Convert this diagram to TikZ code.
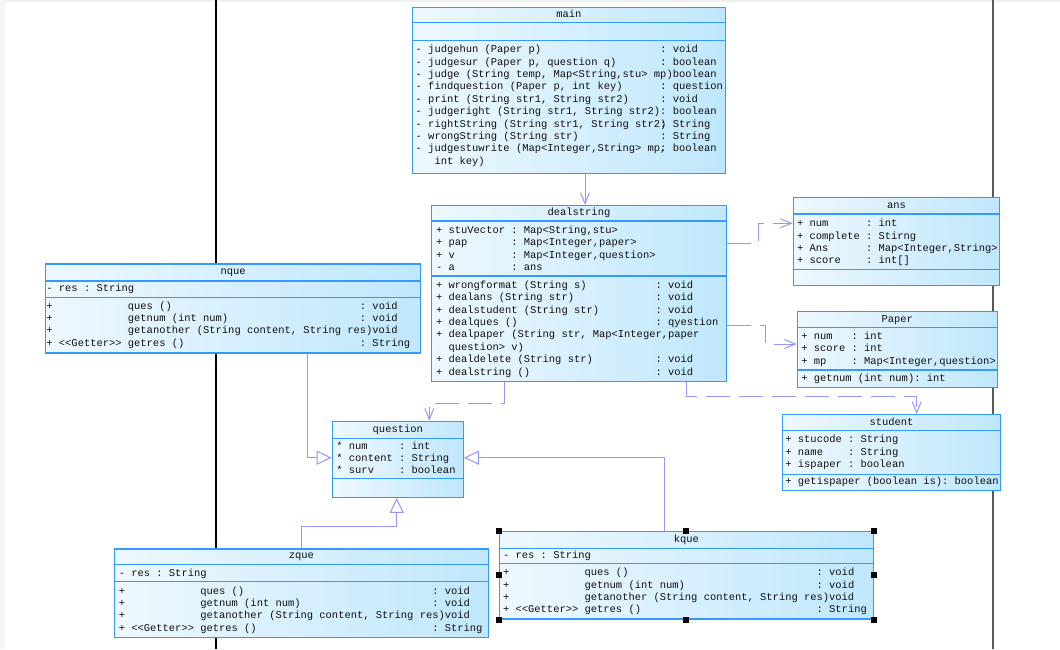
\documentclass[tikz,border=0pt]{standalone}
\usepackage{fontspec}
\setmonofont{Liberation Mono}
\usetikzlibrary{arrows.meta}

\definecolor{clsline}{RGB}{51,153,255}
\definecolor{clsleft}{RGB}{238,248,254}
\definecolor{clsright}{RGB}{192,231,252}
\definecolor{lnk}{RGB}{150,150,255}
\definecolor{txt}{RGB}{15,15,15}

\newlength\chw
\newcommand\memfont{\fontsize{10.45}{12.4}\selectfont\ttfamily\frenchspacing}
\AtBeginDocument{\settowidth\chw{\memfont x}}
\newcommand\mem[4]{\strut\makebox[2\chw][l]{#1}\makebox[#2\chw][l]{#3}: #4}
\newcommand\memx[4]{\strut\makebox[2\chw][l]{#1}\makebox[#2\chw][l]{#3}\hspace*{2\chw}#4}

\begin{document}
\begin{tikzpicture}[x=1pt, y=-1pt]

\tikzstyle{cls} = [draw=clsline, line width=1.2pt, left color=clsleft, right color=clsright, anchor=north west, inner sep=0pt];
\tikzstyle{sep} = [draw=clsline, line width=1.2pt];
\tikzstyle{title} = [font=\memfont, text=txt, anchor=base];
\tikzstyle{mem} = [font=\memfont, text=txt, anchor=north west, align=left, inner sep=0pt];
\tikzstyle{use} = [draw=lnk, line width=1pt, -{Straight Barb[length=11pt,width=9pt]}];
\tikzstyle{dep} = [use, dash pattern=on 24pt off 9pt];
\tikzstyle{gen} = [draw=lnk, line width=1pt, -{Triangle[open,length=15pt,width=14pt,fill=white]}];

\useasboundingbox (0,0) rectangle (1060,649);
\fill[black!6] (0,0) rectangle (1060,2);
\fill[black!4] (0,0) rectangle (5,649);

\draw[black, line width=1.5pt] (216,0) -- (216,649);
\draw[black!65, line width=1.5pt] (993,0) -- (993,649);

% main
\node(main) [cls, minimum width=313.3, minimum height=166.3] at (411.7,6.7) {};
\node(mainT) [title] at (main.north |- 0,17.6) {main};
\draw[sep] (main.west |- 0,22.7) -- (main.east |- 0,22.7);
\draw[sep] (main.west |- 0,40.7) -- (main.east |- 0,40.7);
\node(mainOps) [mem] at (415.5,43.8) {%
\mem{-}{37}{judgehun (Paper p)}{void}\\
\mem{-}{37}{judgesur (Paper p, question q)}{boolean}\\
\memx{-}{37}{judge (String temp, Map<String,stu> mp)}{boolean}\\
\mem{-}{37}{findquestion (Paper p, int key)}{question}\\
\mem{-}{37}{print (String str1, String str2)}{void}\\
\mem{-}{37}{judgeright (String str1, String str2)}{boolean}\\
\mem{-}{37}{rightString (String str1, String str2)}{String}\\
\mem{-}{37}{wrongString (String str)}{String}\\
\mem{-}{37}{judgestuwrite (Map<Integer,String> mp,}{boolean}\\
\strut\hspace*{3\chw}int key)};

% dealstring
\node(dealstring) [cls, minimum width=294.7, minimum height=176] at (431,205) {};
\node(dealT) [title] at (dealstring.north |- 0,215.3) {dealstring};
\draw[sep] (dealstring.west |- 0,221) -- (dealstring.east |- 0,221);
\draw[sep] (dealstring.west |- 0,276) -- (dealstring.east |- 0,276);
\node(dealAttr) [mem] at (435.9,224.5) {%
\mem{+}{10}{stuVector}{Map<String,stu>}\\
\mem{+}{10}{pap}{Map<Integer,paper>}\\
\mem{+}{10}{v}{Map<Integer,question>}\\
\mem{-}{10}{a}{ans}};
\node(dealOps) [mem] at (435.9,279.5) {%
\mem{+}{33}{wrongformat (String s)}{void}\\
\mem{+}{33}{dealans (String str)}{void}\\
\mem{+}{33}{dealstudent (String str)}{void}\\
\mem{+}{33}{dealques ()}{qyestion}\\
\memx{+}{33}{dealpaper (String str, Map<Integer,}{paper}\\
\strut\hspace*{2\chw}question> v)\\
\mem{+}{33}{dealdelete (String str)}{void}\\
\mem{+}{33}{dealstring ()}{void}};

% ans
\node(ans) [cls, minimum width=206.3, minimum height=88.3] at (792.7,196.7) {};
\node(ansT) [title] at (ans.north |- 0,208.3) {ans};
\draw[sep] (ans.west |- 0,214) -- (ans.east |- 0,214);
\draw[sep] (ans.west |- 0,269.3) -- (ans.east |- 0,269.3);
\node(ansAttr) [mem] at (796.9,217.8) {%
\mem{+}{9}{num}{int}\\
\mem{+}{9}{complete}{Stirng}\\
\mem{+}{9}{Ans}{Map<Integer,String>}\\
\mem{+}{9}{score}{int[]}};

% Paper
\node(Paper) [cls, minimum width=200, minimum height=76] at (796.7,310.7) {};
\node(PaperT) [title] at (Paper.north |- 0,322) {Paper};
\draw[sep] (Paper.west |- 0,327.3) -- (Paper.east |- 0,327.3);
\draw[sep] (Paper.west |- 0,370) -- (Paper.east |- 0,370);
\node(PaperAttr) [mem] at (801.2,330.5) {%
\mem{+}{6}{num}{int}\\
\mem{+}{6}{score}{int}\\
\mem{+}{6}{mp}{Map<Integer,question>}};
\node(PaperOps) [mem] at (801.2,372.2) {\strut+ getnum (int num): int};

% student
\node(student) [cls, minimum width=218.3, minimum height=76] at (781.7,414) {};
\node(studentT) [title] at (student.north |- 0,425.7) {student};
\draw[sep] (student.west |- 0,430.7) -- (student.east |- 0,430.7);
\draw[sep] (student.west |- 0,474.3) -- (student.east |- 0,474.3);
\node(studentAttr) [mem] at (785.2,433.8) {%
\mem{+}{8}{stucode}{String}\\
\mem{+}{8}{name}{String}\\
\mem{+}{8}{ispaper}{boolean}};
\node(studentOps) [mem] at (785.2,475.5) {\strut+ getispaper (boolean is): boolean};

% nque
\node(nque) [cls, minimum width=375, minimum height=89] at (45,263.3) {};
\node(nqueT) [title] at (nque.north |- 0,274.7) {nque};
\draw[sep] (nque.west |- 0,281) -- (nque.east |- 0,281);
\draw[sep] (nque.west |- 0,297.7) -- (nque.east |- 0,297.7);
\node(nqueAttr) [mem] at (46.2,282.8) {\mem{-}{4}{res}{String}};
\node(nqueOps) [mem] at (46.2,300.2) {%
\mem{+}{48}{\hspace*{11\chw}ques ()}{void}\\
\mem{+}{48}{\hspace*{11\chw}getnum (int num)}{void}\\
\memx{+}{48}{\hspace*{11\chw}getanother (String content, String res)}{void}\\
\mem{+}{48}{<{}<Getter>{}> getres ()}{String}};

% question
\node(question) [cls, minimum width=131, minimum height=76] at (331.7,420.7) {};
\node(questionT) [title] at (question.north |- 0,432.3) {question};
\draw[sep] (question.west |- 0,438.3) -- (question.east |- 0,438.3);
\draw[sep] (question.west |- 0,478.3) -- (question.east |- 0,478.3);
\node(questionAttr) [mem] at (336.2,440.2) {%
\mem{*}{8}{num}{int}\\
\mem{*}{8}{content}{String}\\
\mem{*}{8}{surv}{boolean}};

% zque
\node(zque) [cls, minimum width=373.7, minimum height=88.4] at (114,548.3) {};
\node(zqueT) [title] at (zque.north |- 0,558.7) {zque};
\draw[sep] (zque.west |- 0,564.3) -- (zque.east |- 0,564.3);
\draw[sep] (zque.west |- 0,581.7) -- (zque.east |- 0,581.7);
\node(zqueAttr) [mem] at (118.6,567.8) {\mem{-}{4}{res}{String}};
\node(zqueOps) [mem] at (118.6,585.2) {%
\mem{+}{48}{\hspace*{11\chw}ques ()}{void}\\
\mem{+}{48}{\hspace*{11\chw}getnum (int num)}{void}\\
\memx{+}{48}{\hspace*{11\chw}getanother (String content, String res)}{void}\\
\mem{+}{48}{<{}<Getter>{}> getres ()}{String}};

% kque
\node(kque) [cls, minimum width=373.7, minimum height=87.6] at (499,530.7) {};
\node(kqueT) [title] at (kque.north |- 0,542) {kque};
\draw[sep] (kque.west |- 0,548.3) -- (kque.east |- 0,548.3);
\draw[sep] (kque.west |- 0,563.3) -- (kque.east |- 0,563.3);
\node(kqueAttr) [mem] at (502.9,549.5) {\mem{-}{4}{res}{String}};
\node(kqueOps) [mem] at (502.9,566.8) {%
\mem{+}{48}{\hspace*{11\chw}ques ()}{void}\\
\mem{+}{48}{\hspace*{11\chw}getnum (int num)}{void}\\
\memx{+}{48}{\hspace*{11\chw}getanother (String content, String res)}{void}\\
\mem{+}{48}{<{}<Getter>{}> getres ()}{String}};

\foreach \a in {north west, north, north east, west, east, south west, south, south east}
  \fill[black] (kque.\a) ++(-3,-3) rectangle ++(6,6);

% links
\draw [use] (main.south -| 585,0) -- (dealstring.north -| 585,0);
\draw [dep] (dealstring.east |- 0,243) -- (758,243) |- (ans.west |- 0,223.3);
\draw [dep] (dealstring.east |- 0,325) -- (765.7,325) |- (Paper.west |- 0,344);
\draw [dep] (dealstring.south -| 686.7,0) |- (916.7,396) -- (student.north -| 916.7,0);
\draw [dep] (dealstring.south -| 504,0) |- (429.3,403.3) -- (question.north -| 429.3,0);
\draw [gen] (nque.south -| 307.7,0) |- (question.west |- 0,457.7);
\draw [gen] (zque.north -| 301.7,0) |- (396.7,526.5) -- (question.south -| 396.7,0);
\draw [gen] (kque.north -| 664,0) |- (question.east |- 0,457.7);

\end{tikzpicture}
\end{document}
